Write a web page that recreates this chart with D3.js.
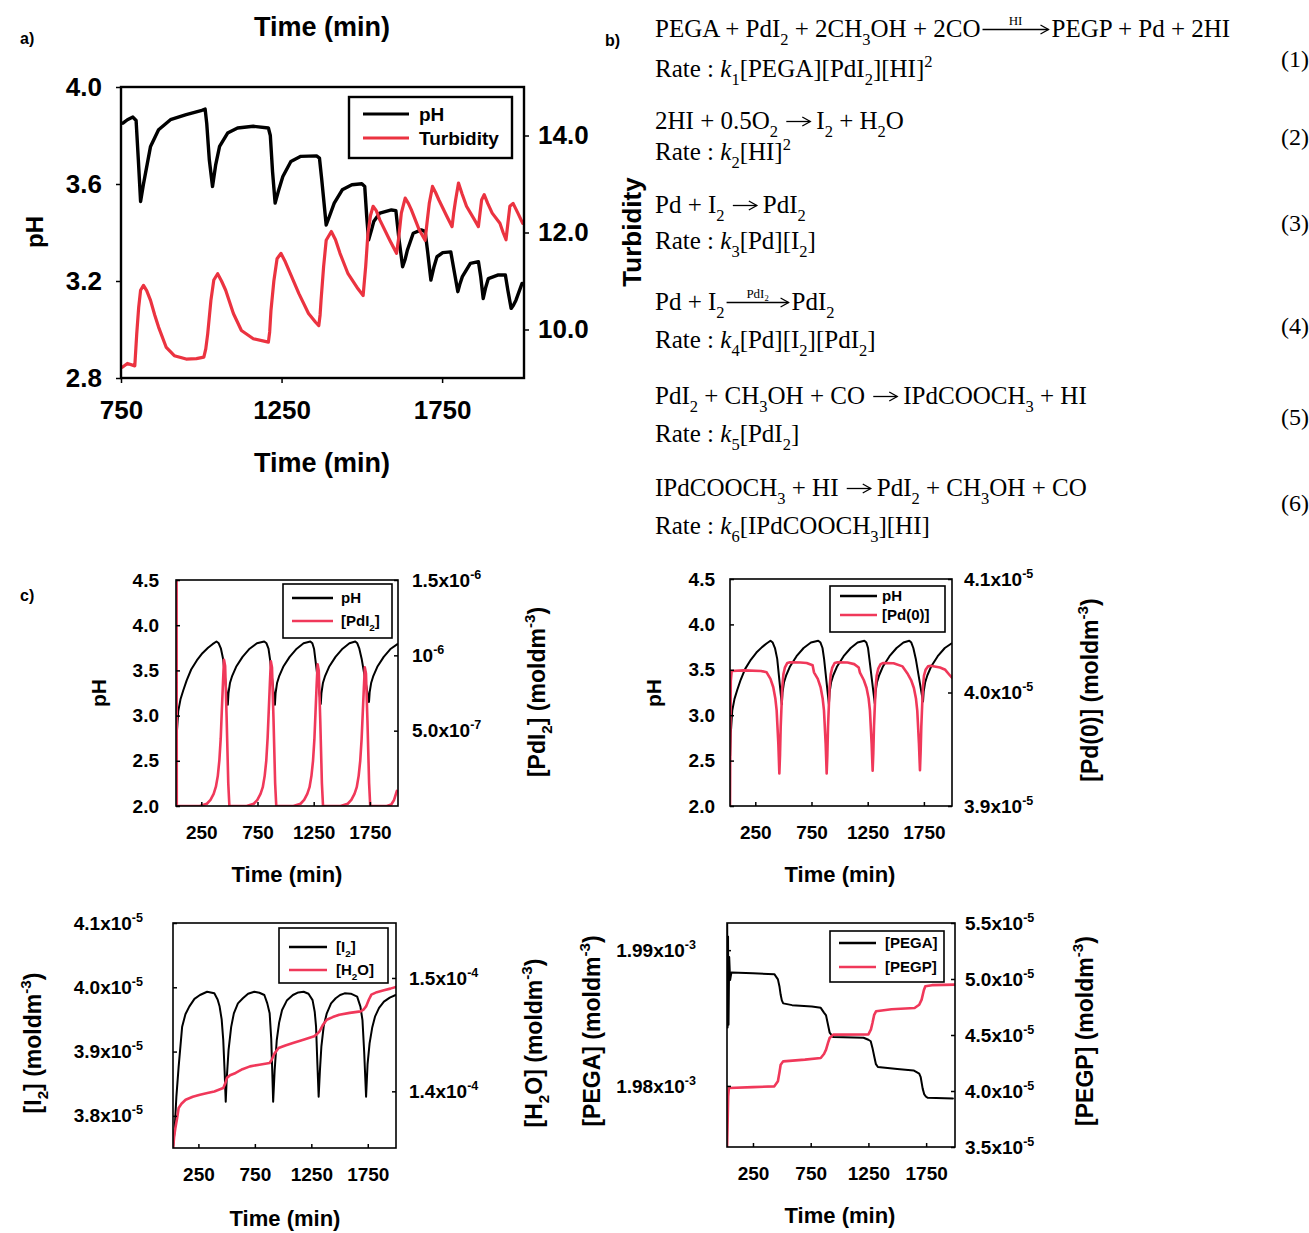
<!DOCTYPE html>
<html><head><meta charset="utf-8">
<script src="https://cdn.jsdelivr.net/npm/d3@7"></script>
<style>body{margin:0;background:#fff}</style>
</head><body>
<script>
// ---------------- DATA ----------------
// Panel a: experimental pH and turbidity [time (min), value]
const aPH = [[756,3.851],[770,3.865],[787,3.876],[797,3.862],[804,3.70],[811,3.528],[820,3.60],[842,3.755],[867,3.824],[904,3.865],[953,3.886],[1002,3.904],[1012,3.909],[1017,3.85],[1025,3.70],[1035,3.590],[1045,3.68],[1057,3.755],[1082,3.81],[1113,3.831],[1162,3.838],[1209,3.831],[1215,3.80],[1222,3.65],[1230,3.521],[1240,3.57],[1254,3.631],[1279,3.693],[1310,3.714],[1359,3.716],[1368,3.707],[1375,3.62],[1389,3.431],[1400,3.47],[1414,3.521],[1439,3.576],[1469,3.597],[1500,3.601],[1509,3.59],[1515,3.47],[1521,3.369],[1530,3.41],[1537,3.445],[1556,3.48],[1592,3.493],[1606,3.49],[1615,3.38],[1627,3.259],[1635,3.29],[1642,3.328],[1660,3.397],[1685,3.411],[1697,3.405],[1705,3.32],[1715,3.204],[1725,3.26],[1734,3.30],[1752,3.317],[1777,3.32],[1785,3.26],[1799,3.156],[1806,3.19],[1813,3.218],[1838,3.273],[1863,3.28],[1870,3.22],[1878,3.128],[1885,3.17],[1894,3.21],[1925,3.225],[1947,3.225],[1955,3.16],[1965,3.087],[1972,3.10],[1980,3.121],[1999,3.19]];
const aTurb = [[754,9.22],[770,9.30],[793,9.25],[799,9.91],[805,10.45],[811,10.81],[820,10.91],[830,10.80],[842,10.60],[855,10.30],[867,10.05],[891,9.63],[916,9.46],[953,9.39],[985,9.40],[1008,9.43],[1014,9.60],[1020,9.91],[1030,10.6],[1039,11.02],[1051,11.15],[1063,11.00],[1076,10.81],[1100,10.33],[1125,9.98],[1162,9.81],[1209,9.74],[1213,9.95],[1217,10.39],[1226,11.0],[1236,11.46],[1248,11.57],[1260,11.42],[1273,11.22],[1304,10.74],[1334,10.33],[1356,10.15],[1366,10.08],[1370,10.3],[1373,10.60],[1381,11.3],[1389,11.84],[1405,12.02],[1418,11.85],[1432,11.57],[1457,11.15],[1488,10.84],[1504,10.70],[1512,11.3],[1519,11.98],[1527,12.35],[1535,12.54],[1545,12.45],[1556,12.26],[1587,11.84],[1608,11.57],[1615,11.9],[1623,12.40],[1635,12.71],[1645,12.6],[1654,12.47],[1679,12.05],[1697,11.84],[1703,12.2],[1710,12.60],[1720,12.95],[1730,12.82],[1740,12.67],[1765,12.33],[1781,12.12],[1786,12.4],[1792,12.67],[1801,13.02],[1812,12.8],[1826,12.54],[1851,12.26],[1863,12.12],[1868,12.4],[1873,12.67],[1881,12.78],[1892,12.6],[1906,12.40],[1930,12.19],[1940,12.0],[1949,11.85],[1955,12.2],[1961,12.54],[1971,12.60],[1986,12.40],[2001,12.19]];
const aXTicks = [750,1250,1750];
const aPHTicks = [2.8,3.2,3.6,4.0];
const aTurbTicks = [10,12,14];

// Panel c: simulated series [time (min), value]
const simPH = [[26,2.55],[32,2.80],[45,3.05],[65,3.18],[90,3.28],[120,3.39],[160,3.51],[210,3.61],[260,3.69],[310,3.75],[350,3.79],[385,3.82],[405,3.80],[425,3.74],[445,3.62],[486,3.12],
[492,3.25],[505,3.36],[525,3.44],[560,3.54],[617,3.65],[680,3.74],[745,3.80],[810,3.82],[830,3.80],[848,3.74],[862,3.62],[905,3.12],
[911,3.25],[924,3.36],[944,3.44],[979,3.54],[1036,3.65],[1099,3.74],[1160,3.80],[1220,3.82],[1238,3.80],[1253,3.74],[1265,3.62],[1313,3.13],
[1319,3.25],[1332,3.36],[1352,3.44],[1387,3.54],[1444,3.65],[1507,3.74],[1568,3.80],[1620,3.82],[1638,3.80],[1656,3.74],[1678,3.62],[1742,3.15],
[1748,3.26],[1761,3.36],[1781,3.44],[1816,3.54],[1873,3.65],[1936,3.74],[1995,3.79]];
const simPdI2 = [[25,0],[27,1.7e-6],[30,1.7e-6],[32,0],[237,0],[300,0.015e-6],[332,0.04e-6],[360,0.08e-6],[380,0.128e-6],[397,0.2e-6],[411,0.305e-6],[423,0.45e-6],[433,0.64e-6],[443,0.82e-6],[452,0.97e-6],[462,0.93e-6],[475,0.60e-6],[490,0.15e-6],[500,0],
[654,0],[717,0.015e-6],[749,0.04e-6],[777,0.08e-6],[797,0.125e-6],[814,0.2e-6],[828,0.3e-6],[840,0.45e-6],[850,0.63e-6],[860,0.81e-6],[869,0.96e-6],[879,0.92e-6],[892,0.59e-6],[907,0.15e-6],[917,0],
[1070,0],[1133,0.015e-6],[1165,0.04e-6],[1193,0.08e-6],[1213,0.125e-6],[1230,0.2e-6],[1244,0.3e-6],[1256,0.44e-6],[1266,0.62e-6],[1276,0.8e-6],[1285,0.94e-6],[1295,0.9e-6],[1308,0.58e-6],[1323,0.15e-6],[1333,0],
[1490,0],[1553,0.015e-6],[1585,0.04e-6],[1613,0.08e-6],[1633,0.125e-6],[1650,0.2e-6],[1664,0.3e-6],[1676,0.44e-6],[1686,0.61e-6],[1696,0.78e-6],[1705,0.92e-6],[1715,0.88e-6],[1728,0.57e-6],[1743,0.15e-6],[1753,0],
[1900,0],[1940,0.01e-6],[1965,0.04e-6],[1990,0.1e-6]];
const simPd0 = [[25,3.9e-5],[28,3.96e-5],[32,4.01e-5],[40,4.019e-5],[150,4.0195e-5],[300,4.019e-5],[351,4.0178e-5],[385,4.012e-5],[410,4.0046e-5],[428,3.995e-5],[440,3.9842e-5],[455,3.955e-5],[464,3.9287e-5],[470,3.945e-5],[476,3.9696e-5],[490,4.0046e-5],[500,4.016e-5],[514,4.0222e-5],[535,4.026e-5],[559,4.0266e-5],[650,4.0264e-5],[707,4.026e-5],[760,4.024e-5],
[772,4.0178e-5],[806,4.012e-5],[831,4.0046e-5],[849,3.995e-5],[861,3.9842e-5],[876,3.955e-5],[885,3.9287e-5],[891,3.945e-5],[897,3.9696e-5],[911,4.0046e-5],[921,4.016e-5],[935,4.022e-5],[956,4.026e-5],[980,4.0266e-5],[1070,4.0264e-5],[1130,4.025e-5],[1170,4.022e-5],
[1181,4.0175e-5],[1215,4.011e-5],[1240,4.004e-5],[1258,3.995e-5],[1270,3.984e-5],[1285,3.955e-5],[1294,3.931e-5],[1300,3.947e-5],[1306,3.97e-5],[1320,4.004e-5],[1330,4.015e-5],[1344,4.021e-5],[1365,4.025e-5],[1389,4.026e-5],[1480,4.0258e-5],[1560,4.023e-5],
[1602,4.017e-5],[1636,4.011e-5],[1661,4.004e-5],[1679,3.995e-5],[1691,3.984e-5],[1706,3.955e-5],[1715,3.9316e-5],[1721,3.948e-5],[1727,3.97e-5],[1741,4.004e-5],[1751,4.015e-5],[1765,4.02e-5],[1786,4.023e-5],[1810,4.0235e-5],[1893,4.022e-5],[1940,4.02e-5],[1982,4.015e-5],[2000,4.013e-5]];
const simI2 = [[26,3.75e-5],[40,3.78e-5],[55,3.83e-5],[75,3.8765e-5],[106,3.9387e-5],[135,3.958e-5],[169,3.970e-5],[215,3.982e-5],[264,3.988e-5],[327,3.9931e-5],[391,3.9906e-5],[420,3.981e-5],[438,3.970e-5],[456,3.950e-5],[470,3.918e-5],[482,3.87e-5],[492,3.822e-5],
[500,3.855e-5],[517,3.9024e-5],[540,3.938e-5],[564,3.9595e-5],[600,3.975e-5],[644,3.983e-5],[690,3.990e-5],[745,3.9931e-5],[790,3.9915e-5],[834,3.988e-5],[860,3.975e-5],[881,3.9595e-5],[895,3.92e-5],[904,3.87e-5],[912,3.822e-5],
[925,3.87e-5],[944,3.918e-5],[965,3.945e-5],[991,3.9647e-5],[1035,3.980e-5],[1087,3.988e-5],[1135,3.992e-5],[1182,3.9931e-5],[1225,3.990e-5],[1261,3.980e-5],[1280,3.962e-5],[1292,3.9387e-5],[1304,3.88e-5],[1315,3.8298e-5],
[1326,3.87e-5],[1339,3.9076e-5],[1360,3.94e-5],[1387,3.9595e-5],[1425,3.975e-5],[1466,3.983e-5],[1505,3.988e-5],[1545,3.9906e-5],[1600,3.990e-5],[1656,3.9854e-5],[1685,3.970e-5],[1703,3.949e-5],[1718,3.90e-5],[1735,3.8298e-5],
[1748,3.88e-5],[1766,3.9128e-5],[1790,3.938e-5],[1814,3.9543e-5],[1850,3.968e-5],[1893,3.9776e-5],[1945,3.984e-5],[1997,3.988e-5]];
const simH2O = [[26,1.35e-4],[35,1.36e-4],[45,1.367e-4],[59,1.3749e-4],[75,1.3853e-4],[100,1.389e-4],[137,1.3926e-4],[200,1.3952e-4],[264,1.397e-4],[330,1.3985e-4],[391,1.3999e-4],[470,1.4029e-4],[488,1.407e-4],[502,1.4117e-4],[530,1.4142e-4],[580,1.4162e-4],[640,1.4195e-4],[707,1.422e-4],[790,1.4235e-4],[881,1.425e-4],[900,1.428e-4],[925,1.4335e-4],[960,1.4382e-4],[1020,1.4405e-4],[1087,1.4426e-4],[1180,1.4455e-4],[1276,1.4485e-4],[1300,1.4505e-4],[1323,1.4529e-4],[1355,1.459e-4],[1387,1.4632e-4],[1440,1.4655e-4],[1498,1.4676e-4],[1590,1.4692e-4],[1687,1.4705e-4],[1712,1.472e-4],[1735,1.4749e-4],[1760,1.481e-4],[1782,1.4853e-4],[1830,1.4875e-4],[1893,1.4891e-4],[1950,1.4906e-4],[2000,1.4921e-4]];
const simPEGA = [[26,1.9935e-3],[30,1.9843e-3],[34,1.991e-3],[38,1.9845e-3],[44,1.9895e-3],[52,1.9878e-3],[63,1.98835e-3],[250,1.9883e-3],[435,1.98823e-3],[466,1.98785e-3],[480,1.9873e-3],[490,1.98671e-3],[500,1.9863e-3],[512,1.98608e-3],[589,1.98595e-3],[760,1.98585e-3],[837,1.98575e-3],[865,1.9854e-3],[883,1.98519e-3],[900,1.9845e-3],[914,1.98393e-3],[945,1.9836e-3],[1208,1.98355e-3],[1250,1.9834e-3],[1270,1.98329e-3],[1285,1.9828e-3],[1301,1.98215e-3],[1315,1.9816e-3],[1332,1.98139e-3],[1500,1.98125e-3],[1641,1.98114e-3],[1690,1.9809e-3],[1703,1.98064e-3],[1720,1.9798e-3],[1734,1.97937e-3],[1750,1.9792e-3],[1765,1.97912e-3],[1982,1.97907e-3]];
const simPEGP = [[26,3.5e-5],[30,3.7e-5],[35,3.95e-5],[41,4.0268e-5],[250,4.035e-5],[435,4.0417e-5],[466,4.0863e-5],[480,4.17e-5],[490,4.2351e-5],[512,4.2649e-5],[700,4.28e-5],[837,4.2946e-5],[865,4.33e-5],[883,4.369e-5],[900,4.43e-5],[914,4.4732e-5],[945,4.503e-5],[1250,4.505e-5],[1272,4.55e-5],[1285,4.607e-5],[1300,4.68e-5],[1316,4.7113e-5],[1450,4.73e-5],[1650,4.741e-5],[1690,4.77e-5],[1711,4.8155e-5],[1730,4.90e-5],[1743,4.9345e-5],[1800,4.945e-5],[2000,4.9494e-5]];

const cXTicks = [250,750,1250,1750];
const cPHTicks = [2.0,2.5,3.0,3.5,4.0,4.5];
const pdi2Ticks = [5e-7,1e-6,1.5e-6];
const pdi2Labels = ["5.0x10^-7","10^-6","1.5x10^-6"];
const pd0Ticks = [3.9e-5,4.0e-5,4.1e-5];
const pd0Labels = ["3.9x10^-5","4.0x10^-5","4.1x10^-5"];
const i2Ticks = [3.8e-5,3.9e-5,4.0e-5,4.1e-5];
const i2Labels = ["3.8x10^-5","3.9x10^-5","4.0x10^-5","4.1x10^-5"];
const h2oTicks = [1.4e-4,1.5e-4];
const h2oLabels = ["1.4x10^-4","1.5x10^-4"];
const pegaTicks = [1.98e-3,1.99e-3];
const pegaLabels = ["1.98x10^-3","1.99x10^-3"];
const pegpTicks = [3.5e-5,4.0e-5,4.5e-5,5.0e-5,5.5e-5];
const pegpLabels = ["3.5x10^-5","4.0x10^-5","4.5x10^-5","5.0x10^-5","5.5x10^-5"];

// ---------------- DRAWING ----------------
const SANS = "'Liberation Sans', Arial, Helvetica, sans-serif";
const SERIF = "'Liberation Serif', 'Times New Roman', Times, serif";
const RED_A = "#eb3340";
const RED_C = "#f0385a";
const svg = d3.select("body").append("svg").attr("width",1309).attr("height",1233).style("display","block");
svg.append("rect").attr("width",1309).attr("height",1233).attr("fill","#fff");
const defs = svg.append("defs");

function rich(sel, parts, fs){
  let cur = 0;
  parts.forEach(p=>{
    const ty = p[0], s = p[1];
    const target = ty==="sub" ? 0.3*fs : ty==="sup" ? -0.42*fs : 0;
    const ts = sel.append("tspan").text(s);
    if(target-cur !== 0) ts.attr("dy",(target-cur)+"px");
    if(ty==="sub"||ty==="sup") ts.attr("font-size",(0.66*fs)+"px");
    if(ty==="it") ts.attr("font-style","italic");
    cur = target;
  });
}
function label(x,y,parts,fs,opts={}){
  const t = svg.append("text").attr("font-family",opts.serif?SERIF:SANS).attr("font-weight",opts.serif?"normal":"bold")
    .attr("font-size",fs+"px").attr("text-anchor",opts.anchor||"start").style("white-space","pre");
  if(opts.rot){ t.attr("transform",`translate(${x},${y}) rotate(-90)`); } else { t.attr("x",x).attr("y",y); }
  rich(t, typeof parts==="string"?[["n",parts]]:parts, fs);
  return t;
}
function styleAxis(g, fs){
  g.select(".domain").remove();
  g.selectAll("text").attr("font-family",SANS).attr("font-weight","bold").attr("font-size",fs+"px").attr("fill","#000");
  g.selectAll("line").attr("stroke","#000").attr("stroke-width",1.5);
  g.selectAll(".tick text").each(function(){
    const el = d3.select(this); const s = el.text();
    if(s.includes("^")){ const [b,e] = s.split("^"); el.text(""); rich(el,[["n",b],["sup",e]],fs); }
  });
}

function panel(c){
  const x = d3.scaleLinear().domain(c.xd).range([c.l,c.r]);
  const yl = d3.scaleLinear().domain(c.yld).range([c.b,c.t]);
  const yr = d3.scaleLinear().domain(c.yrd).range([c.b,c.t]);
  const cid = "clip-"+c.id;
  defs.append("clipPath").attr("id",cid).append("rect").attr("x",c.l).attr("y",c.t).attr("width",c.r-c.l).attr("height",c.b-c.t);
  const lg = svg.append("g").attr("clip-path",`url(#${cid})`);
  c.series.forEach(s=>{
    const ys = s.axis==="R"?yr:yl;
    lg.append("path").datum(s.data).attr("fill","none").attr("stroke",s.color).attr("stroke-width",s.w)
      .attr("stroke-linejoin","round").attr("stroke-linecap","round")
      .attr("d",d3.line().x(d=>x(d[0])).y(d=>ys(d[1])));
  });
  svg.append("rect").attr("x",c.l).attr("y",c.t).attr("width",c.r-c.l).attr("height",c.b-c.t)
    .attr("fill","none").attr("stroke","#000").attr("stroke-width",c.fw);
  const ts = c.ts;
  const gx = svg.append("g").attr("transform",`translate(0,${c.b})`)
    .call(d3.axisBottom(x).tickValues(c.xt).tickFormat(d3.format("d")).tickSizeInner(ts).tickSizeOuter(0).tickPadding(c.xpad));
  styleAxis(gx, c.fs);
  const gl = svg.append("g").attr("transform",`translate(${c.l},0)`)
    .call(d3.axisLeft(yl).tickValues(c.ylt).tickFormat((d,i)=>c.yll[i]).tickSizeInner(ts).tickSizeOuter(0).tickPadding(c.lpad));
  styleAxis(gl, c.fs);
  const gr = svg.append("g").attr("transform",`translate(${c.r},0)`)
    .call(d3.axisRight(yr).tickValues(c.yrt).tickFormat((d,i)=>c.yrl[i]).tickSizeInner(ts).tickSizeOuter(0).tickPadding(c.rpad));
  styleAxis(gr, c.fs);
  // legend
  const L = c.leg;
  svg.append("rect").attr("x",L.x).attr("y",L.y).attr("width",L.w).attr("height",L.h).attr("fill","#fff").attr("stroke","#000").attr("stroke-width",L.sw);
  L.items.forEach((it,i)=>{
    svg.append("line").attr("x1",L.lx1).attr("x2",L.lx2).attr("y1",L.ly[i]).attr("y2",L.ly[i]).attr("stroke",it.color).attr("stroke-width",L.lw);
    const t = label(L.tx, L.ly[i], it.text, L.fs);
    t.attr("dy","0.36em");
  });
}

// ---------- Panel a ----------
panel({id:"a", l:121, r:524, t:87, b:378, xd:[750,2005], yld:[2.8,4.0], yrd:[9,15], fw:2.4,
  ts:5, fs:26, xpad:18, lpad:14, rpad:9,
  xt:aXTicks, ylt:aPHTicks, yll:aPHTicks.map(d3.format(".1f")), yrt:aTurbTicks, yrl:aTurbTicks.map(d3.format(".1f")),
  series:[{data:aPH,axis:"L",color:"#000",w:3.4},{data:aTurb,axis:"R",color:RED_A,w:3.2}],
  leg:{x:349,y:97,w:163,h:61,sw:2.4,lx1:363,lx2:409,ly:[114,138],lw:3,tx:419,fs:19,
    items:[{text:"pH",color:"#000"},{text:"Turbidity",color:RED_A}]}});
label(20,44,"a)",16);
label(322,36,"Time (min)",27,{anchor:"middle"});
label(322,472,"Time (min)",27,{anchor:"middle"});
label(43,232,"pH",24,{anchor:"middle",rot:true});
label(641,232,"Turbidity",26,{anchor:"middle",rot:true});

// ---------- Panel b (equations) ----------
const gB = svg.append("g");
function eq(x, y, parts){
  const fs = 25;
  let cx = x, t;
  const start = ()=>{ t = gB.append("text").attr("x",cx).attr("y",y).attr("font-family",SERIF).attr("font-size",fs+"px").style("white-space","pre"); };
  start();
  let buf = [];
  parts.forEach(p=>{
    if(p[0]==="arrow"){
      rich(t, buf, fs); buf = [];
      cx += t.node().getComputedTextLength();
      const len = p[1], ay = y - 0.3*fs, x0 = cx+2, x1 = cx+2+len;
      gB.append("line").attr("x1",x0).attr("x2",x1).attr("y1",ay).attr("y2",ay).attr("stroke","#000").attr("stroke-width",1.3);
      gB.append("path").attr("d",`M${x1-8},${ay-4.5}L${x1},${ay}L${x1-8},${ay+4.5}`).attr("fill","none").attr("stroke","#000").attr("stroke-width",1.3);
      if(p[2].length){
        const lt = gB.append("text").attr("x",(x0+x1)/2).attr("y",ay-5).attr("text-anchor","middle").attr("font-family",SERIF).attr("font-size","13px");
        rich(lt, p[2], 13);
      }
      cx = x1 + (p[2].length ? 3 : 6);
      start();
    } else buf.push(p);
  });
  rich(t, buf, fs);
}
label(605,46,"b)",16);
const EX = 655;
const AR = ["arrow",24,[]];
eq(EX,37,[["n","PEGA + PdI"],["sub","2"],["n"," + 2CH"],["sub","3"],["n","OH + 2CO"],["arrow",66,[["n","HI"]]],["n","PEGP + Pd + 2HI"]]);
eq(EX,77,[["n","Rate : "],["it","k"],["sub","1"],["n","[PEGA][PdI"],["sub","2"],["n","][HI]"],["sup","2"]]);
eq(EX,129,[["n","2HI + 0.5O"],["sub","2"],["n"," "],AR,["n","I"],["sub","2"],["n"," + H"],["sub","2"],["n","O"]]);
eq(EX,160,[["n","Rate : "],["it","k"],["sub","2"],["n","[HI]"],["sup","2"]]);
eq(EX,213,[["n","Pd + I"],["sub","2"],["n"," "],AR,["n","PdI"],["sub","2"]]);
eq(EX,249,[["n","Rate : "],["it","k"],["sub","3"],["n","[Pd][I"],["sub","2"],["n","]"]]);
eq(EX,310,[["n","Pd + I"],["sub","2"],["arrow",62,[["n","PdI"],["sub","2"]]],["n","PdI"],["sub","2"]]);
eq(EX,348,[["n","Rate : "],["it","k"],["sub","4"],["n","[Pd][I"],["sub","2"],["n","][PdI"],["sub","2"],["n","]"]]);
eq(EX,404,[["n","PdI"],["sub","2"],["n"," + CH"],["sub","3"],["n","OH + CO "],AR,["n","IPdCOOCH"],["sub","3"],["n"," + HI"]]);
eq(EX,442,[["n","Rate : "],["it","k"],["sub","5"],["n","[PdI"],["sub","2"],["n","]"]]);
eq(EX,496,[["n","IPdCOOCH"],["sub","3"],["n"," + HI "],AR,["n","PdI"],["sub","2"],["n"," + CH"],["sub","3"],["n","OH + CO"]]);
eq(EX,534,[["n","Rate : "],["it","k"],["sub","6"],["n","[IPdCOOCH"],["sub","3"],["n","][HI]"]]);
[["(1)",67],["(2)",145],["(3)",231],["(4)",334],["(5)",425],["(6)",511]].forEach(d=>label(1281,d[1],d[0],24,{serif:true}));

// ---------- Panel c ----------
label(20,601,"c)",16);
const CX = [25,2000];
const cStyle = {ts:-4, fs:19, xpad:20, fw:1.6};
const phFmt = cPHTicks.map(d3.format(".1f"));
const TF = 23;
panel(Object.assign({id:"c1", l:176, r:398, t:580, b:806, xd:CX, yld:[2.0,4.5], yrd:[0,1.5e-6],
  lpad:17, rpad:14, xt:cXTicks, ylt:cPHTicks, yll:phFmt, yrt:pdi2Ticks, yrl:pdi2Labels,
  series:[{data:simPH,axis:"L",color:"#000",w:2},{data:simPdI2,axis:"R",color:RED_C,w:2.6}],
  leg:{x:283,y:584,w:109,h:54,sw:1.6,lx1:292,lx2:333,ly:[598,621],lw:2.6,tx:341,fs:15,
    items:[{text:"pH",color:"#000"},{text:[["n","[PdI"],["sub","2"],["n","]"]],color:RED_C}]}}, cStyle));
label(287,882,"Time (min)",22,{anchor:"middle"});
label(106,693,"pH",21,{anchor:"middle",rot:true});
label(545,692,[["n","[PdI"],["sub","2"],["n","] (moldm"],["sup","-3"],["n",")"]],TF,{anchor:"middle",rot:true});

panel(Object.assign({id:"c2", l:730, r:952, t:579, b:806, xd:CX, yld:[2.0,4.5], yrd:[3.9e-5,4.1e-5],
  lpad:15, rpad:12, xt:cXTicks, ylt:cPHTicks, yll:phFmt, yrt:pd0Ticks, yrl:pd0Labels,
  series:[{data:simPH,axis:"L",color:"#000",w:2},{data:simPd0,axis:"R",color:RED_C,w:2.6}],
  leg:{x:830,y:586,w:115,h:46,sw:1.6,lx1:840,lx2:877,ly:[596,615],lw:2.6,tx:882,fs:15,
    items:[{text:"pH",color:"#000"},{text:"[Pd(0)]",color:RED_C}]}}, cStyle));
label(840,882,"Time (min)",22,{anchor:"middle"});
label(661,693,"pH",21,{anchor:"middle",rot:true});
label(1098,690,[["n","[Pd(0)] (moldm"],["sup","-3"],["n",")"]],TF,{anchor:"middle",rot:true});

panel(Object.assign({id:"c3", l:173, r:396, t:923, b:1148, xd:CX, yld:[3.75e-5,4.1e-5], yrd:[1.35e-4,1.5485e-4],
  lpad:30, rpad:13, xt:cXTicks, ylt:i2Ticks, yll:i2Labels, yrt:h2oTicks, yrl:h2oLabels,
  series:[{data:simI2,axis:"L",color:"#000",w:2},{data:simH2O,axis:"R",color:RED_C,w:2.6}],
  leg:{x:279,y:928,w:109,h:55,sw:1.6,lx1:289,lx2:327,ly:[947,970],lw:2.6,tx:336,fs:15,
    items:[{text:[["n","[I"],["sub","2"],["n","]"]],color:"#000"},{text:[["n","[H"],["sub","2"],["n","O]"]],color:RED_C}]}}, cStyle));
label(285,1226,"Time (min)",22,{anchor:"middle"});
label(41,1043,[["n","[I"],["sub","2"],["n","] (moldm"],["sup","-3"],["n",")"]],TF,{anchor:"middle",rot:true});
label(542,1043,[["n","[H"],["sub","2"],["n","O] (moldm"],["sup","-3"],["n",")"]],TF,{anchor:"middle",rot:true});

panel(Object.assign({id:"c4", l:727, r:955, t:923, b:1147, xd:CX, yld:[1.9755e-3,1.992e-3], yrd:[3.5e-5,5.5e-5],
  lpad:31, rpad:10, xt:cXTicks, ylt:pegaTicks, yll:pegaLabels, yrt:pegpTicks, yrl:pegpLabels,
  series:[{data:simPEGA,axis:"L",color:"#000",w:2},{data:simPEGP,axis:"R",color:RED_C,w:2.6}],
  leg:{x:830,y:931,w:114,h:51,sw:1.6,lx1:839,lx2:876,ly:[943,967],lw:2.6,tx:885,fs:15,
    items:[{text:"[PEGA]",color:"#000"},{text:"[PEGP]",color:RED_C}]}}, cStyle));
label(840,1223,"Time (min)",22,{anchor:"middle"});
label(600,1031,[["n","[PEGA] (moldm"],["sup","-3"],["n",")"]],TF,{anchor:"middle",rot:true});
label(1093,1031,[["n","[PEGP] (moldm"],["sup","-3"],["n",")"]],TF,{anchor:"middle",rot:true});
</script>
</body></html>
